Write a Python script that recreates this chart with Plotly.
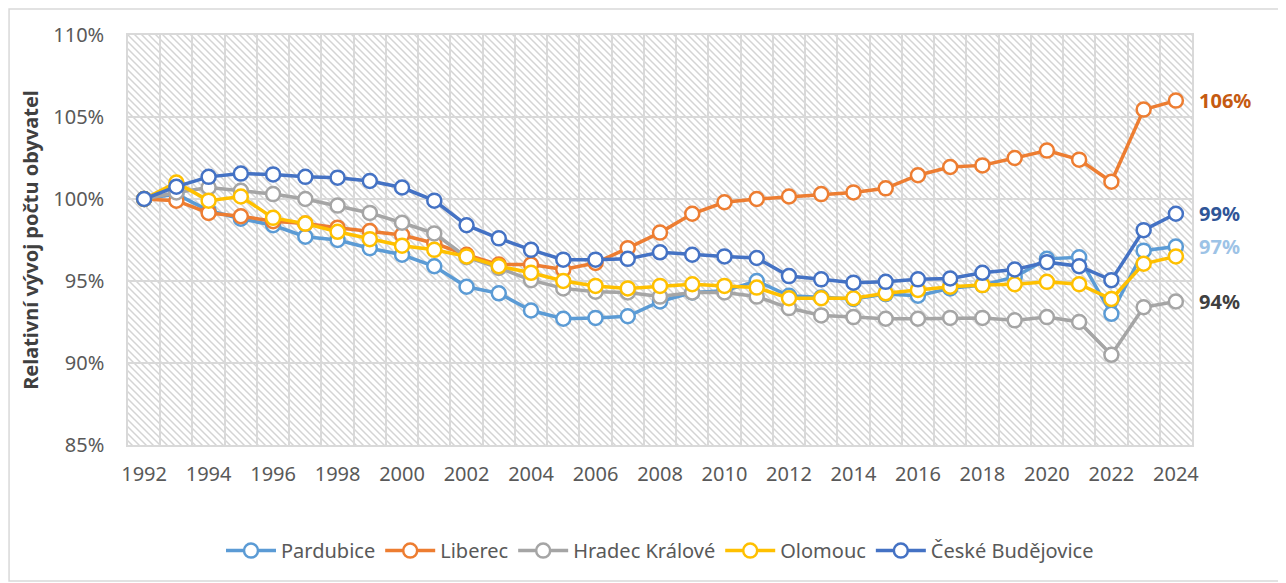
import base64
import plotly.graph_objects as go

# Years (categories)
years = list(range(1992, 2025))

# Relative population development, % of 1992
pardubice = [100.0, 100.3, 99.3, 98.8, 98.4, 97.7, 97.5, 97.0, 96.6, 95.9,
             94.65, 94.25, 93.2, 92.7, 92.75, 92.85, 93.75, 94.3, 94.4, 95.0,
             94.1, 94.0, 93.9, 94.2, 94.1, 94.55, 94.75, 95.25, 96.35, 96.45,
             93.0, 96.85, 97.1]
liberec = [100.0, 99.9, 99.15, 98.95, 98.65, 98.5, 98.25, 98.05, 97.8, 97.3,
           96.6, 96.0, 96.0, 95.7, 96.1, 97.0, 97.95, 99.1, 99.8, 100.0,
           100.15, 100.3, 100.4, 100.65, 101.45, 101.95, 102.05, 102.5, 102.95, 102.4,
           101.05, 105.45, 106.0]
hradec = [100.0, 100.4, 100.7, 100.5, 100.3, 100.0, 99.6, 99.15, 98.55, 97.9,
          96.45, 95.8, 95.05, 94.55, 94.35, 94.3, 94.05, 94.3, 94.3, 94.05,
          93.35, 92.9, 92.8, 92.7, 92.7, 92.75, 92.75, 92.6, 92.8, 92.5,
          90.5, 93.4, 93.75]
olomouc = [100.0, 101.0, 99.9, 100.15, 98.85, 98.5, 98.0, 97.55, 97.15, 96.9,
           96.5, 95.9, 95.5, 95.0, 94.7, 94.55, 94.7, 94.8, 94.7, 94.6,
           93.95, 93.95, 93.95, 94.25, 94.45, 94.65, 94.75, 94.8, 94.95, 94.8,
           93.9, 96.05, 96.5]
budejovice = [100.0, 100.75, 101.35, 101.55, 101.5, 101.35, 101.3, 101.1, 100.7, 99.9,
              98.4, 97.6, 96.9, 96.3, 96.3, 96.35, 96.75, 96.6, 96.5, 96.4,
              95.3, 95.1, 94.9, 94.95, 95.1, 95.15, 95.5, 95.7, 96.15, 95.9,
              95.05, 98.1, 99.1]

series_names = ['Pardubice', 'Liberec', 'Hradec Králové', 'Olomouc', 'České Budějovice']
series_values = [pardubice, liberec, hradec, olomouc, budejovice]
series_colors = ['#5B9BD5', '#ED7D31', '#A5A5A5', '#FFC000', '#4472C4']

# end labels: (series index, text, colour)
end_labels = [(1, '106%', '#C55A11'), (4, '99%', '#2F5597'),
              (0, '97%', '#9DC3E6'), (2, '94%', '#404040')]

FONT = '"Noto Sans", "Open Sans", sans-serif'

# hatched plot background (Excel pattern fill)
W, H = 1064, 410
svg = ('<svg xmlns="http://www.w3.org/2000/svg" width="%d" height="%d" viewBox="0 0 %d %d" '
       'preserveAspectRatio="none">'
       '<defs><pattern id="p" width="7" height="7" patternUnits="userSpaceOnUse">'
       '<path d="M-1,-1 L8,8 M-1,6 L1,8 M6,-1 L8,1" stroke="#D4D4D4" stroke-width="1.5"/>'
       '</pattern></defs><rect width="100%%" height="100%%" fill="white"/>'
       '<rect width="100%%" height="100%%" fill="url(#p)"/></svg>') % (W, H, W, H)
hatch_src = 'data:image/svg+xml;base64,' + base64.b64encode(svg.encode()).decode()

fig = go.Figure()
for name, vals, col in zip(series_names, series_values, series_colors):
    fig.add_trace(go.Scatter(
        x=years, y=vals, name=name, mode='lines+markers',
        line=dict(color=col, width=3.5),
        marker=dict(symbol='circle', size=14, color='white',
                    line=dict(color=col, width=2.5)),
    ))

for idx, text, col in end_labels:
    fig.add_annotation(x=years[-1], y=series_values[idx][-1], text='<b>%s</b>' % text,
                       showarrow=False, xanchor='left', xshift=21,
                       font=dict(color=col, size=20, family=FONT))

fig.add_layout_image(dict(source=hatch_src, xref='paper', yref='paper', x=0, y=1,
                          sizex=1, sizey=1, sizing='stretch', layer='below'))

# outer chart frame
fig.add_shape(type='rect', xref='paper', yref='paper',
              x0=-0.1118, x1=1.0846, y0=-0.3317, y1=1.0634,
              line=dict(color='#D9D9D9', width=1.5), fillcolor='rgba(0,0,0,0)')

# page body has an 8px margin, so the figure is drawn 8px smaller
fig.update_layout(
    width=1278, height=575,
    margin=dict(l=120, r=94, t=27, b=138),
    paper_bgcolor='white', plot_bgcolor='rgba(0,0,0,0)',
    font=dict(family=FONT, size=18, color='#595959'),
    showlegend=True,
    legend=dict(orientation='h', x=0.5, xanchor='center', y=-0.21, yanchor='top',
                font=dict(size=20, color='#595959'), itemwidth=50,
                traceorder='normal', tracegroupgap=0),
    xaxis=dict(range=[1991.5, 2024.5], tickmode='linear', tick0=1992, dtick=2,
               showgrid=False, zeroline=False, ticks='', ticklabelstandoff=10,
               showline=True, linecolor='#D9D9D9', linewidth=1.5, mirror=True,
               minor=dict(tick0=1991.5, dtick=1, showgrid=True,
                          gridcolor='#D9D9D9', gridwidth=1.5),
               tickfont=dict(size=20, color='#595959')),
    yaxis=dict(range=[85, 110], tickmode='linear', tick0=85, dtick=5, ticksuffix='%',
               showgrid=True, gridcolor='#D9D9D9', gridwidth=1.5, zeroline=False,
               showline=True, linecolor='#D9D9D9', linewidth=1.5, mirror=True,
               ticks='', ticklabelstandoff=18,
               tickfont=dict(size=20, color='#595959'),
               title=dict(text='<b>Relativní vývoj počtu obyvatel</b>', standoff=9,
                          font=dict(size=20, color='#404040'))),
)

fig.write_html("out.html")
